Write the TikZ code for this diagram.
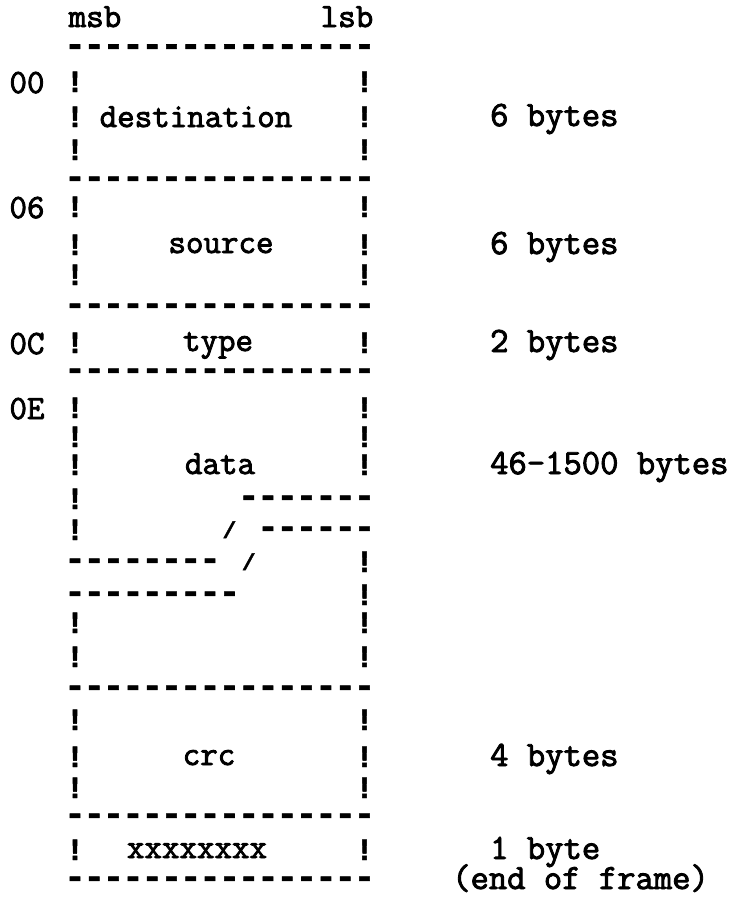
\documentclass[tikz,border=0pt]{standalone}
\usepackage{fontspec}
\newfontfamily\typ{Latin Modern Mono}[FakeBold=2.5]
\newfontfamily\markfont{Liberation Mono}[BoldFeatures={FakeBold=1.5}]
\newcommand\X[1]{75+19.3*(#1)}
\begin{document}
\begin{tikzpicture}[x=1pt,y=-1pt,
  dsh/.style={inner sep=0pt,anchor=base,text height=0.3em,text depth=0pt,font=\markfont\bfseries\fontsize{36}{36}\selectfont},
  bang/.style={inner sep=0pt,anchor=base,text height=0.62em,text depth=0pt,font=\markfont\bfseries\fontsize{31}{31}\selectfont},
  sl/.style={inner sep=0pt,anchor=base,text height=0.6em,text depth=0pt,font=\markfont\bfseries\fontsize{23}{23}\selectfont},
  lbl/.style={inner sep=0pt,anchor=base,text height=0.6em,text depth=0pt,font=\typ\fontsize{34}{34}\selectfont},
  note/.style={inner sep=0pt,anchor=base west,text height=0.6em,text depth=0.1em,font=\typ\fontsize{35.6}{35}\selectfont}]
\useasboundingbox[fill=white] (0,0) rectangle (742,898);
% full-width dash rows
\foreach \y/\n in {48/a,180/b,307/c,372/d,689/e,817/f,880/g}
  \foreach \c in {0,...,15}
    \node[dsh] (d\n\c) at ({\X{\c}},\y+8) {-};
% box sides
\foreach \y [count=\i] in {82,117,150,207,245,275,343,408,437,465,623,657,720,757,788,850} {
  \node[bang] (l\i) at ({\X{0}},\y+10) {!};
  \node[bang] (r\i) at ({\X{15}},\y+10) {!};
}
% data break
\node[bang] (bl1) at ({\X{0}},499+10) {!};
\foreach \c in {9,...,15} \node[dsh] (ba\c) at ({\X{\c}},499+8) {-};
\node[bang] (bl2) at ({\X{0}},530+10) {!};
\node[sl] (s1) at ({\X{8}},530+8) {/};
\foreach \c in {10,...,15} \node[dsh] (bb\c) at ({\X{\c}},530+8) {-};
\foreach \c in {0,...,7} \node[dsh] (bc\c) at ({\X{\c}},562+8) {-};
\node[sl] (s2) at ({\X{9}},562+8) {/};
\node[bang] (br1) at ({\X{15}},562+10) {!};
\foreach \c in {0,...,8} \node[dsh] (bd\c) at ({\X{\c}},595+8) {-};
\node[bang] (br2) at ({\X{15}},595+10) {!};
% header
\node[lbl] (msb) at (95,17+10) {msb};
\node[lbl] (lsb) at (347,17+10) {lsb};
% offsets
\node[lbl] (o1) at (27,82+11) {00};
\node[lbl] (o2) at (27,207+11) {06};
\node[lbl] (o3) at (27,343+11) {0C};
\node[lbl] (o4) at (27,408+11) {0E};
% field names
\node[lbl] (f1) at (196,117+10) {destination};
\node[lbl] (f2) at (221,245+8) {source};
\node[lbl] (f3) at (218,343+8) {type};
\node[lbl] (f4) at (220,465+9) {data};
\node[lbl] (f5) at (209,757+8) {crc};
\node[lbl] (f6) at (197,850+8) {xxxxxxxx};
% sizes
\node[note] (n1) at (490,117+9) {6 bytes};
\node[note] (n2) at (490,245+9) {6 bytes};
\node[note] (n3) at (490,343+9) {2 bytes};
\node[note] (n4) at (490,465+9) {46-1500 bytes};
\node[note] (n5) at (490,757+9) {4 bytes};
\node[note] (n6) at (490,850+9) {1 byte};
\node[note] (n7) at (452,880+9) {(end of frame)};
\end{tikzpicture}
\end{document}
